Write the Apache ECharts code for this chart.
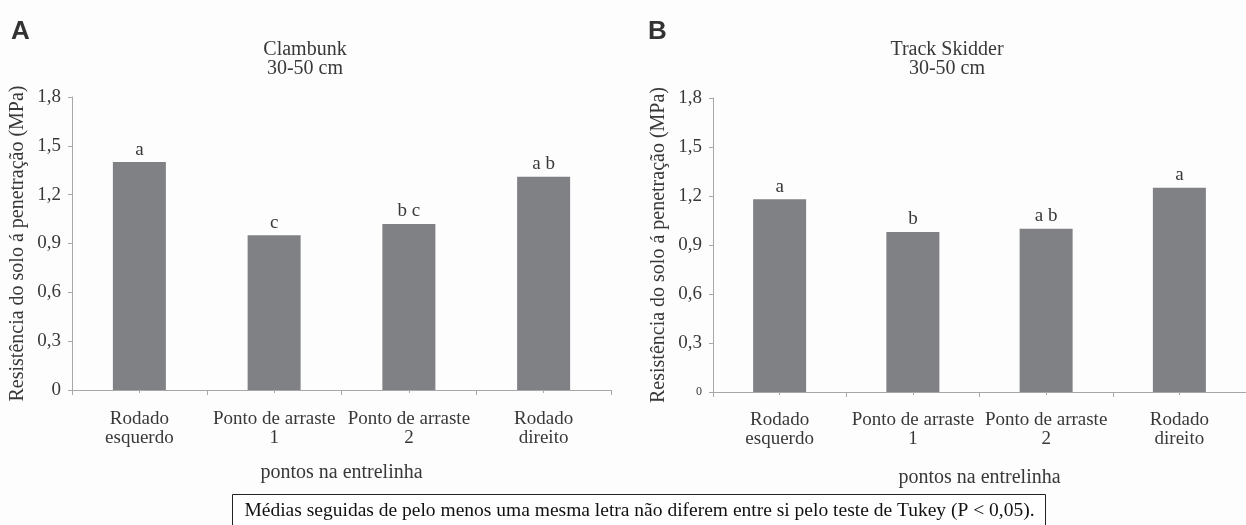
<!DOCTYPE html>
<html>
<head>
<meta charset="utf-8">
<script src="https://cdn.jsdelivr.net/npm/echarts@6/dist/echarts.min.js"></script>
<style>
html,body{margin:0;padding:0;background:#fdfdfd;}
#c{width:1246px;height:525px;}
</style>
</head>
<body>
<div id="c"></div>
<script>
var categories = ['Rodado\nesquerdo', 'Ponto de arraste\n1', 'Ponto de arraste\n2', 'Rodado\ndireito'];
var valuesA = [1.40, 0.95, 1.02, 1.31];
var lettersA = ['a', 'c', 'b c', 'a b'];
var valuesB = [1.18, 0.98, 1.00, 1.25];
var lettersB = ['a', 'b', 'a b', 'a'];
var yTicks = [0, 0.3, 0.6, 0.9, 1.2, 1.5, 1.8];
var titleA = 'Clambunk\n30-50 cm';
var titleB = 'Track Skidder\n30-50 cm';
var yName = 'Resistência do solo á penetração (MPa)';
var xName = 'pontos na entrelinha';
var caption = 'Médias seguidas de pelo menos uma mesma letra não diferem entre si pelo teste de Tukey (P < 0,05).';

var serif = 'Liberation Serif, Times New Roman, serif';
var txt = '#383838';
var axisCol = '#a8a8a8';
var barCol = '#808185';

function fmt(v, small) {
  if (v === 0) return small ? '{s|0}' : '0';
  return v.toFixed(1).replace('.', ',');
}

function yAxis(gi, small) {
  return {
    type: 'value', gridIndex: gi, min: 0, max: 1.8, interval: 0.3,
    name: yName, nameLocation: 'middle', nameGap: 44,
    nameTextStyle: {fontFamily: serif, fontSize: 20, color: txt},
    axisLine: {show: true, lineStyle: {color: axisCol, width: 1}},
    axisTick: {show: true, length: 4, lineStyle: {color: axisCol}},
    splitLine: {show: false},
    axisLabel: {
      margin: 11, fontFamily: serif, fontSize: 19, color: txt,
      formatter: function (v) { return fmt(v, small); },
      rich: {s: {fontFamily: serif, fontSize: 12, color: txt}}
    }
  };
}

function xAxisMain(gi, nameGap, margin) {
  return {
    type: 'category', gridIndex: gi, data: categories,
    name: xName, nameLocation: 'middle', nameGap: nameGap,
    nameTextStyle: {fontFamily: serif, fontSize: 20, color: txt},
    axisLine: {show: true, lineStyle: {color: axisCol, width: 1}},
    axisTick: {show: true, length: 5, lineStyle: {color: axisCol}},
    axisLabel: {margin: margin, fontFamily: serif, fontSize: 19, color: txt, lineHeight: 19, interval: 0}
  };
}
function xAxisMinor(gi) {
  return {
    type: 'category', gridIndex: gi, data: categories, position: 'bottom',
    axisLine: {show: false},
    axisTick: {show: true, alignWithLabel: true, length: 3, lineStyle: {color: axisCol}},
    axisLabel: {show: false}
  };
}

function barSeries(xi, yi, vals, letters) {
  return {
    type: 'bar', xAxisIndex: xi, yAxisIndex: yi, data: vals, barWidth: 53,
    itemStyle: {color: barCol},
    label: {
      show: true, position: 'top', distance: 3,
      fontFamily: serif, fontSize: 19, color: txt,
      formatter: function (p) { return letters[p.dataIndex]; }
    },
    silent: true
  };
}

var chart = echarts.init(document.getElementById('c'), null, {renderer: 'canvas'});
chart.setOption({
  backgroundColor: '#fdfdfd',
  animation: false,
  grid: [
    {left: 72, width: 539, top: 97, bottom: 135},
    {left: 713, width: 534, top: 98, bottom: 133}
  ],
  xAxis: [xAxisMain(0, 73, 20), xAxisMinor(0), xAxisMain(1, 76, 19), xAxisMinor(1)],
  yAxis: [yAxis(0, false), yAxis(1, true)],
  series: [barSeries(0, 0, valuesA, lettersA), barSeries(2, 1, valuesB, lettersB)],
  graphic: [
    {type: 'text', left: 11, top: 19, style: {text: 'A', font: 'bold 26px Liberation Sans, Arial, sans-serif', fill: '#333'}},
    {type: 'text', left: 648, top: 19, style: {text: 'B', font: 'bold 26px Liberation Sans, Arial, sans-serif', fill: '#333'}},
    {type: 'text', x: 305, y: 40, style: {text: titleA, font: '20px ' + serif, fill: txt, textAlign: 'center', lineHeight: 19}},
    {type: 'text', x: 947, y: 40, style: {text: titleB, font: '20px ' + serif, fill: txt, textAlign: 'center', lineHeight: 19}},
    {type: 'rect', shape: {x: 232.5, y: 494.5, width: 813, height: 40}, style: {fill: '#ffffff', stroke: '#222', lineWidth: 1}},
    {type: 'text', x: 639.5, y: 511, style: {text: caption, font: '19.5px ' + serif, fill: '#111', textAlign: 'center', textVerticalAlign: 'middle'}}
  ]
});
</script>
</body>
</html>
